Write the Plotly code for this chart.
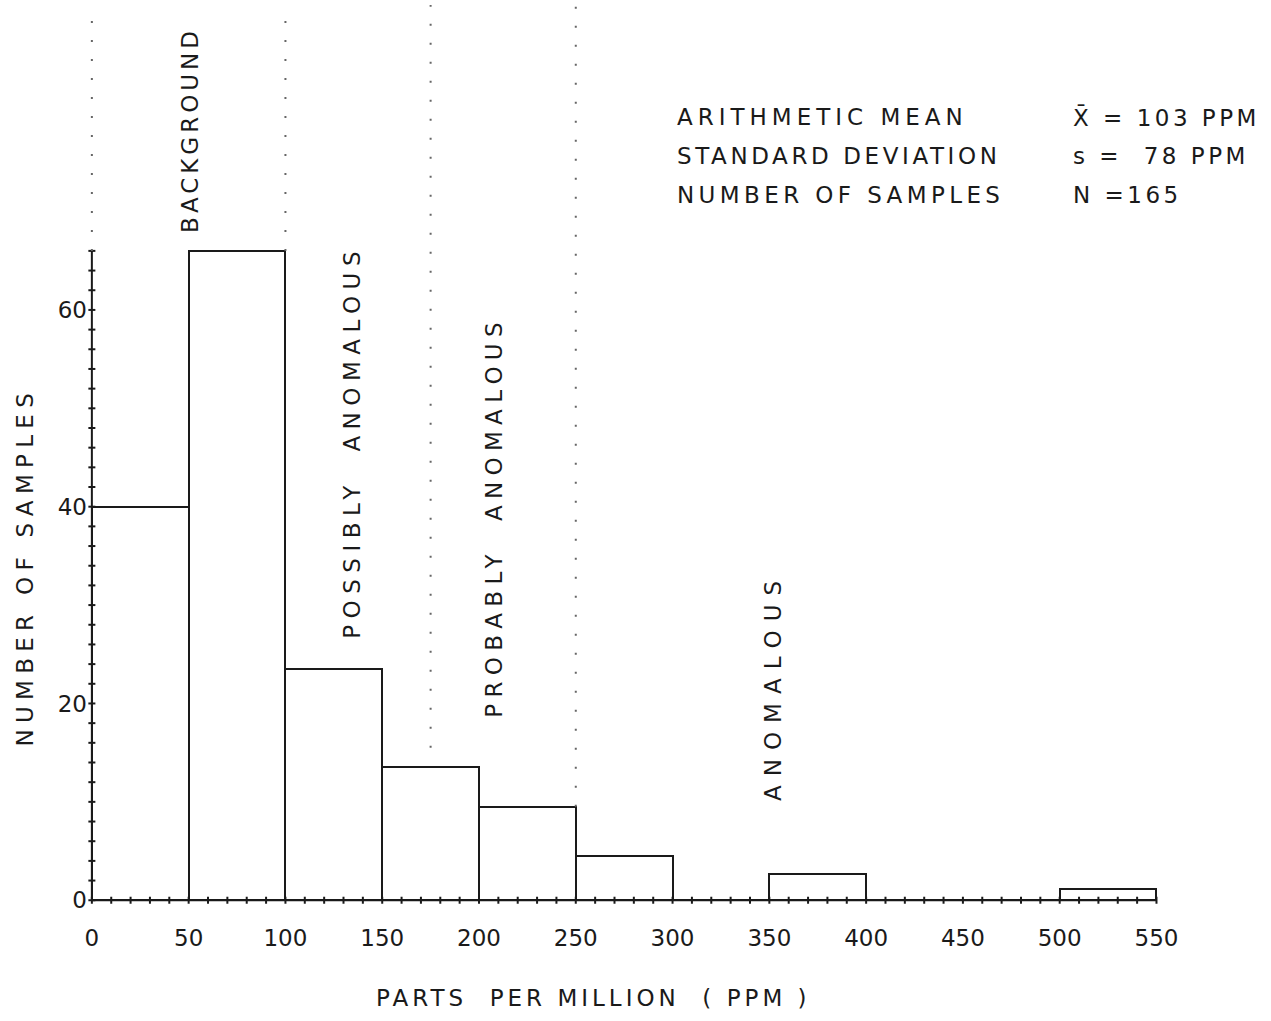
import plotly.graph_objects as go

# ---- data ----
bin_left = [0, 50, 100, 150, 200, 250, 300, 350, 400, 450, 500]
bin_width = 50
counts = [40, 66, 23.5, 13.5, 9.5, 4.5, 0, 2.7, 0, 0, 1.1]

x_tick_vals = [0, 50, 100, 150, 200, 250, 300, 350, 400, 450, 500, 550]
x_tick_text = ["0", "50", "100", "150", "200", "250", "300", "350", "400", "450", "500", "550"]
y_tick_vals = [0, 20, 40, 60]
y_tick_text = ["0", "20", "40", "60"]

# class boundaries (ppm) and the count level where each dotted divider starts
boundaries = [0, 100, 175, 250]
boundary_from = [66, 66, 15.5, 9.5]

class_labels = ["BACKGROUND", "POSSIBLY  ANOMALOUS", "PROBABLY  ANOMALOUS", "ANOMALOUS"]
class_x = [50.7, 134.4, 207.3, 351.5]
class_y = [78.3, 46.6, 39.0, 21.7]
class_spacing = [4, 6.5, 6.3, 9]

stat_names = ["ARITHMETIC MEAN", "STANDARD DEVIATION", "NUMBER OF SAMPLES"]
stat_name_spacing = [5, 3.6, 4.4]
stat_values = ["X\u0304 = 103 PPM", "s =  78 PPM", "N =165"]
stat_y = [79.6, 75.6, 71.7]

minor_x = list(range(0, 551, 10))
minor_y = list(range(0, 67, 2))

FONT = "DejaVu Sans"
INK = "#1a1a1a"

W, H = 1271, 1021
ML, MR, MT, MB = 88, 10, 0, 106
XR = [-2, 604]
YR = [-1.5, 91.5]


def to_paper_x(v):
    return (v - XR[0]) / (XR[1] - XR[0])


def to_paper_y(v):
    return (v - YR[0]) / (YR[1] - YR[0])


def spaced(t, px):
    return f'<span style="letter-spacing:{px}px">{t}</span>'


fig = go.Figure()

fig.add_trace(go.Bar(
    x=[b + bin_width / 2 for b in bin_left],
    y=counts,
    width=bin_width,
    marker=dict(color="white", line=dict(color=INK, width=2)),
    showlegend=False, hoverinfo="skip",
))

# small tick marks on the axes
fig.add_trace(go.Scatter(
    x=minor_x, y=[0] * len(minor_x), mode="markers",
    marker=dict(symbol="line-ns-open", size=5, color=INK, line=dict(color=INK, width=2)),
    showlegend=False, hoverinfo="skip",
))
fig.add_trace(go.Scatter(
    x=[0] * len(minor_y), y=minor_y, mode="markers",
    marker=dict(symbol="line-ew-open", size=5, color=INK, line=dict(color=INK, width=2)),
    showlegend=False, hoverinfo="skip",
))

# axis lines
fig.add_shape(type="line", x0=0, x1=550, y0=0, y1=0, line=dict(color=INK, width=2))
fig.add_shape(type="line", x0=0, x1=0, y0=0, y1=66, line=dict(color=INK, width=2))

# dotted class dividers
for bx, by in zip(boundaries, boundary_from):
    fig.add_shape(type="line", x0=bx, x1=bx, y0=by, y1=91, yref="y",
                  line=dict(color="#666666", width=2, dash="2px,17px"))

for t, x, y, sp in zip(class_labels, class_x, class_y, class_spacing):
    fig.add_annotation(x=x, y=y, text=spaced(t, sp), textangle=-90, showarrow=False,
                       font=dict(family=FONT, size=23, color=INK))

for n, nsp, v, y in zip(stat_names, stat_name_spacing, stat_values, stat_y):
    fig.add_annotation(x=301.4, y=y, text=spaced(n, nsp), showarrow=False, xanchor="left",
                       font=dict(family=FONT, size=23, color=INK))
    fig.add_annotation(x=505.6, y=y, text=spaced(v, 3.5), showarrow=False, xanchor="left",
                       font=dict(family=FONT, size=23, color=INK))

# axis titles (placed in paper space, they sit outside the plotting area)
fig.add_annotation(xref="paper", yref="paper", x=to_paper_x(-34.6), y=to_paper_y(33.9),
                   xanchor="center", yanchor="middle",
                   text=spaced("NUMBER OF SAMPLES", 6.3), textangle=-90,
                   showarrow=False, font=dict(family=FONT, size=23, color=INK))
fig.add_annotation(xref="paper", yref="paper", x=to_paper_x(259), y=to_paper_y(-9.9),
                   xanchor="center", yanchor="middle",
                   text=spaced("PARTS  PER MILLION  ( PPM )", 4),
                   showarrow=False, font=dict(family=FONT, size=23, color=INK))

fig.update_layout(
    width=W, height=H,
    margin=dict(l=ML, r=MR, t=MT, b=MB),
    paper_bgcolor="white", plot_bgcolor="white",
    bargap=0,
    xaxis=dict(range=XR, showgrid=False, zeroline=False, showline=False,
               tickvals=x_tick_vals, ticktext=x_tick_text, ticks="",
               ticklabelstandoff=7,
               tickfont=dict(family=FONT, size=23, color=INK)),
    yaxis=dict(range=YR, showgrid=False, zeroline=False, showline=False,
               tickvals=y_tick_vals, ticktext=y_tick_text, ticks="",
               tickfont=dict(family=FONT, size=23, color=INK)),
)

fig.write_html("out.html", config={"displayModeBar": False},
               post_script="document.body.style.margin='0';")
